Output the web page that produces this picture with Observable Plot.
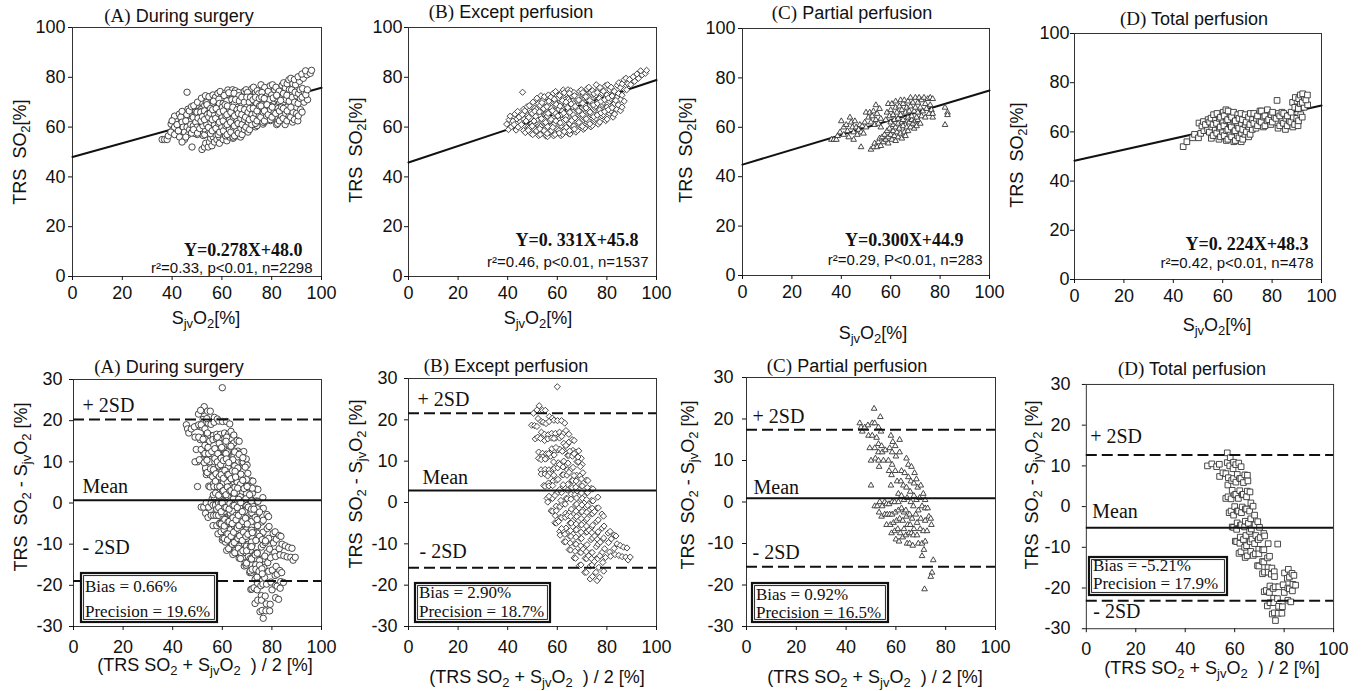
<!DOCTYPE html>
<html><head><meta charset="utf-8">
<script src="https://cdn.jsdelivr.net/npm/d3@7"></script>
<script src="https://cdn.jsdelivr.net/npm/@observablehq/plot@0.6"></script>
<style>
body{margin:0;background:#fff;}
#page{position:relative;width:1363px;height:691px;overflow:hidden;background:#fff;}
.panel{position:absolute;}
#overlay{position:absolute;left:0;top:0;pointer-events:none;}
#overlay text{white-space:pre;}
</style></head><body><div id="page"></div>
<script>
// ---------- DATA ----------
const panelLetters = ["(A)", "(B)", "(C)", "(D)"];
const panelNames = ["During surgery", "Except perfusion", "Partial perfusion", "Total perfusion"];
const slopes = [0.278, 0.331, 0.300, 0.224];
const intercepts = [48.0, 45.8, 44.9, 48.3];
const eqLabels = ["Y=0.278X+48.0", "Y=0. 331X+45.8", "Y=0.300X+44.9", "Y=0. 224X+48.3"];
const statLabels = ["r\u00B2=0.33, p<0.01, n=2298", "r\u00B2=0.46, p<0.01, n=1537", "r\u00B2=0.29, P<0.01, n=283", "r\u00B2=0.42, p<0.01, n=478"];
const bias = [0.66, 2.90, 0.92, -5.21];
const precision = [19.6, 18.7, 16.5, 17.9];
const biasLabels = ["Bias = 0.66%", "Bias = 2.90%", "Bias = 0.92%", "Bias = -5.21%"];
const precisionLabels = ["Precision = 19.6%", "Precision = 18.7%", "Precision = 16.5%", "Precision = 17.9%"];
const xTicks = [0, 20, 40, 60, 80, 100];
const yTicksTop = [0, 20, 40, 60, 80, 100];
const yTicksBottom = [-30, -20, -10, 0, 10, 20, 30];

// [SjvO2, TRS SO2] pairs
const exceptPerfusion = [
[40.3,59],[39.6,61.2],[40.6,63],[41.5,60.1],[42.1,62.4],[41,64.4],[43.4,58.8],[42.6,61],[43.7,63.3],[42.9,65.2],
[44.2,60],[45.1,62.1],[44.6,64],[44,66.3],[46.4,58.6],[45.5,61],[46.6,63.1],[45.9,65],[46.4,67.2],[46,74],
[47.1,57.8],[48.1,60],[47.4,62.4],[48.2,64.6],[46.9,66.5],[47.8,68.2],[49.5,57.4],[48.6,59.6],[49.7,61.5],[48.5,63.9],[49.4,66.1],[48.7,68.6],
[50.1,57],[51.1,59.1],[50.3,61],[51.2,63.2],[49.9,65.5],[50.9,67.6],[50.2,70],
[52.5,56.6],[51.6,58.5],[52.7,60.6],[51.7,62.9],[52.6,65],[51.5,67.1],[52.4,69.4],[51.8,71.6],
[53.1,57],[54.1,58.8],[53.2,60.2],[54.2,62.3],[53,64.5],[53.9,66.6],[53.1,68.7],[54.1,70.8],[53.4,72.6],
[55.4,56.4],[54.6,58.6],[55.7,60.9],[54.7,63],[55.6,65.2],[54.5,67.4],[55.5,69.8],[54.8,72.2],
[56.1,56.2],[57,58.1],[56.1,60.2],[57.1,62.5],[56,64.4],[57.2,66.6],[56.2,68.8],[57,71],[56.4,72.9],
[58.5,56.5],[57.6,58.6],[58.6,61],[57.5,63.1],[58.7,65.4],[57.6,67.6],[58.5,69.9],[57.4,72],[58.4,73.6],
[59.1,57],[60,59.1],[59,61.4],[60.2,63.6],[59.1,65.8],[60.1,68],[59,70.4],[60,72.6],[59.3,74.3],
[61.5,56.6],[60.6,58.6],[61.6,60.6],[60.5,62.9],[61.7,65.1],[60.6,67.2],[61.5,69.5],[60.5,71.7],[61.4,73.6],
[62.1,57.1],[63,59.4],[62.1,61.8],[63.1,64.1],[62,66.4],[63.2,68.5],[62.1,70.6],[63,72.9],[62.4,74.9],
[64.5,57.5],[63.6,59.9],[64.7,62.1],[63.5,64.4],[64.6,66.6],[63.6,68.9],[64.5,71.1],[63.5,73.4],[64.3,75],
[65.1,57.2],[66,59.1],[65,61.4],[66.1,63.6],[65.1,65.9],[66.2,68.1],[65,70.2],[66,72.5],[65.4,74.6],
[67.5,58],[66.6,60.4],[67.6,62.6],[66.5,64.9],[67.7,67.1],[66.6,69.4],[67.5,71.6],[66.7,73.9],
[68.1,58.6],[69,60.9],[68.1,63.1],[69.1,65.4],[68,67.6],[69.2,69.9],[68.1,72.1],[69,74.4],
[70.5,59.1],[69.6,61.4],[70.6,63.9],[69.5,66.1],[70.7,68.4],[69.6,70.6],[70.5,72.9],[69.7,75],
[71.1,59.6],[72,62],[71,64.4],[72.1,66.6],[71.1,68.9],[72.2,71.1],[71,73.4],[72,75.4],
[73.5,60.1],[72.6,62.5],[73.6,64.9],[72.5,67.1],[73.7,69.5],[72.6,71.9],[73.5,74],[72.7,76],
[74.1,60.6],[75,63],[74.1,65.4],[75.1,67.9],[74,70.1],[75.2,72.4],[74.2,74.6],
[76.5,61.2],[75.6,63.5],[76.6,66],[75.5,68.4],[76.7,70.6],[75.6,72.9],[76.5,75.1],[75.7,77],
[77.1,62],[78,64.5],[77.1,66.9],[78.1,69.1],[77,71.5],[78.2,73.6],[77.2,75.9],
[79.5,62.6],[78.6,65],[79.6,67.4],[78.5,69.9],[79.7,72.1],[78.6,74.4],[79.4,76.6],
[80.1,63.2],[81,65.6],[80.1,68],[81.1,70.4],[80,72.9],[81.2,75],[80.3,77],
[82.5,64],[81.6,66.5],[82.6,69],[81.5,71.4],[82.7,73.6],[81.7,76],
[83.1,65.2],[84,67.1],[83.1,69.5],[84.1,72],[83,74.4],[84.2,76.8],
[85.5,66.6],[84.6,68.9],[85.6,71.1],[84.7,73.5],[85.5,75.8],[84.8,77.8],
[86.1,68],[87,70.4],[86.1,72.8],[87.1,75.1],[86.2,77.4],[86.9,79],
[88,75],[88.5,77.4],[87.7,79.6],[89.6,77],[89.1,79.1],[91.2,78.4],[90.6,80.2],[92.7,79.6],[92.1,81.3],[94.2,81],[93.6,82.6],[95.5,81.6],[96,82.8],
[48.3,58.7],[49.9,60.4],[50.6,62.4],[51.3,64.3],[50.9,66.4],[52.9,59.3],[53.6,63.4],[52.8,66.1],[53.8,69.8],[55.9,57.4],
[55.3,61.9],[56.3,65.5],[55.8,68.2],[56.6,70.4],[58.2,59.9],[59.4,62.5],[58,66.6],[59.6,69.1],[58.8,71.2],[60.8,57.6],
[61.2,61.7],[60.2,64.5],[61.1,68.4],[60.9,72.7],[62.8,58.2],[63.4,63],[62.6,65.6],[63.5,70],[62.8,73.8],[64.9,58.6],
[65.8,62.6],[64.2,67.8],[65.6,69.3],[64.9,73.6],[66.9,59.2],[67.1,63.7],[67.2,68.3],[66.9,72.6],[68.7,61.9],[68.6,66.5],
[68.6,70.9],[70.1,60.3],[70.2,65],[70.2,69.6],[70.3,73.9],[71.7,63.3],[71.6,67.7],[71.5,72.2],[73.1,61.3],[73.2,66],
[73.1,70.7],[74.7,64.2],[74.6,68.9],[74.8,73.4],[76.1,64.8],[76.2,69.5],[76.1,73.9],[77.6,65.7],[77.6,70.3],[79.1,66.2],
[79.1,71],[80.6,67],[80.6,71.7],[82.1,67.8],[82.1,72.5],[83.6,70.7]
];
const partialPerfusion = [
[36,55],[37,55],[38,55],[38.5,56.5],[39.5,58],[40,62.5],[41,60],[41,57],[42,61],[42.5,58.5],[43,56],[43.5,64],
[44,62],[44.5,60],[45,58],[45,55],[45.5,62.5],[46,60],[46.5,57],[47,59],[47.5,61],[48,52],[48,58],[48.5,60.5],
[49,57.5],[49.5,62],[50,60],[50,66],
[51,64],[51.5,66],[52,62],[52.5,64.5],[53,66.5],[53.5,61],[54,69],[54,63],[54.5,65.5],[55,61.5],[55.5,67.5],[56,63.5],[56,60],
[52,51],[53,52],[53.5,53.5],[54.5,52],[55,54],[55.5,55.5],[56,52.5],[56.5,56],[57,54],[57.5,57],[58,55],[58.5,58.5],
[59,56],[59,53.5],[59.5,59.5],[60,57],[60.5,55],[61,58.5],[61,61],[61.5,56.5],[62,60],[62,54.5],[62.5,58],[63,61.5],
[63,56],[63.5,59.5],[64,57.5],[64.5,62],[64.5,55.5],[65,60.5],[65.5,58],[66,62.5],[66,56.5],[66.5,60],[67,58.5],
[67.5,62],[68,60],[68.5,63],[69,61.5],[69.5,59.5],[70,62.5],[70.5,60.5],[71,63],[72,61.5],
[58,63],[58.5,66],[59,69.5],[59.5,64.5],[60,62],[60,67],[60.5,69.5],[61,65],[61.5,63],[62,68],[62,70.5],[62.5,66],
[63,63.5],[63.5,68.5],[64,71],[64,65],[64.5,67],[65,69.5],[65,63],[65.5,71],[66,66],[66.5,68],[67,64],[67,70.5],
[67.5,66.5],[68,72],[68,68.5],[68.5,64.5],[69,70],[69.5,66.5],[70,72],[70,68],[70.5,64],[71,70],[71,66],[71.5,72],
[72,68],[72.5,64.5],[72.5,71],[73,66.5],[73.5,72],[74,69.5],[74,64],[74.5,67.5],[75,71.5],[75.5,65.5],[76,72],
[76,69],[76.5,67],[77,71.5],[77,64],[77,65.5],
[82,61],[82,68],[83,66],[83,65]
];
const totalPerfusion = [
[44,54],[45.5,56],[47.8,57.6],[48.6,59],[50.2,57.6],[51.1,59.4],[50.4,63.6],[52.4,60.5],[51.6,62.4],[52.2,64.2],
[53.9,61],[53,63],[54.1,65],[55.4,57.4],[54.6,59.9],[55.6,62],[54.7,64],[55.3,65.6],
[56.1,58.5],[57,61],[56.1,63],[57.1,65],[56.3,67],[58.5,57],[57.6,59.5],[58.6,61.5],[57.5,63.5],[58.6,65.5],[57.7,67.5],
[59.1,58],[60,60],[59,62],[60.1,64],[59.1,66],[60.2,68],[61.5,56.5],[60.6,58.5],[61.6,60.5],[60.5,62.5],[61.6,64.5],[60.6,66.5],[61.3,69],
[62.1,57],[63,59],[62.1,61],[63.1,63],[62,65],[63.2,67],[62.2,68.5],[64.5,56],[63.6,58],[64.6,60],[63.5,62],[64.6,64],[63.6,66],[64.4,68],
[65.1,56.5],[66,58.5],[65,60.5],[66.1,62.5],[65.1,64.5],[66.1,67],[67.5,56],[66.6,57.6],[67.6,59.5],[66.5,61.5],[67.6,63.5],[66.6,65.5],[67.4,67.5],
[68.1,57],[69,59],[68.1,61],[69.1,63],[68,65],[69.1,67],[70.5,58],[69.6,60],[70.6,62],[69.5,64],[70.5,66],
[71.1,59],[72,61],[71,63],[72.1,65],[71.2,67.5],[73.5,61.5],[72.6,63.5],[73.6,65.5],[72.6,67.5],
[74.1,62.5],[75,64.5],[74.1,66.5],[75.1,68.5],[76.5,62],[75.6,64],[76.6,66],[75.7,68.5],
[77.1,62.5],[78,64.5],[77.1,66.5],[78.1,69],[79.5,63],[78.6,65],[79.6,67],[80.1,64],[81,66],[80.2,68],
[82.4,61.5],[81.6,65.5],[82.6,67.5],[82,72.8],[83.1,62.5],[84,64.5],[83.1,66.5],[84,68],
[85.4,61],[84.6,63.5],[85.6,65.5],[84.7,67.5],[86.1,62.5],[87,64.5],[86.2,66.5],
[88.4,62],[87.6,64],[88.6,66],[87.7,68],[88.3,72],[89.1,63],[90,65.5],[89.2,70],[90.1,72.5],[89.4,74],
[90.5,62.5],[90.7,64.5],[91.6,67],[90.6,69.5],[91.5,71.5],[90.8,73.5],[91.4,75],
[92.2,66],[93,70],[92.2,72],[93.1,74],[92.4,75.5],[94.4,71],[93.7,73],[94.3,75]
];
// "During surgery" is the union of the three phases (n = 1537 + 283 + 478 = 2298)
const duringSurgery = [...exceptPerfusion, ...partialPerfusion, ...totalPerfusion];
const series = [duringSurgery, exceptPerfusion, partialPerfusion, totalPerfusion];

// ---------- LAYOUT / STYLE ----------
const symbols = ["circle", "diamond2", "triangle", "square2"];
const symbolR = [3.2, 2.8, 2.1, 3.6];
const framesTop = [[72,27,249,249],[408,27,248,249],[742,28,247,247],[1074,33,247,246]];
const framesBottom = [[73,379,248,247],[408,378,248,248],[746,377,249,249],[1086,384,248,245]];
const yPadTop = [3,2,3,1];
const yPadBottom = [7,7,9,12];
const eqOffset = [[-19,-25.8],[-18,-35.8],[-26,-34.8],[-13,-34.8]];
const statOffset = [[-9,-8.8],[-8,-14.8],[-7,-15.8],[-8,-16.8]];
const annDx = [[9,9,9],[9,14,11],[6,7,6],[4,6,7]];
const annDy = [[-14.4,-13.4,-33.4],[-13.4,-13.4,-16.4],[-13.4,-10.4,-14.4],[-18.4,-16.4,10.6]];

const SANS = "'Liberation Sans', Arial, Helvetica, sans-serif";
const SERIF = "'Liberation Serif', 'Times New Roman', Times, serif";
const page = document.getElementById("page");
const M = {left: 60, right: 30, top: 14, bottom: 44};

function place(frame, marks, ydomain, yticks, ypad, xpad) {
  const [L, T, W, H] = frame;
  const chart = Plot.plot({
    width: W + M.left + M.right, height: H + M.top + M.bottom,
    marginLeft: M.left, marginRight: M.right, marginTop: M.top, marginBottom: M.bottom,
    style: {fontFamily: SANS, fontSize: "18px", color: "#111", background: "transparent", overflow: "visible"},
    x: {domain: [0, 100], label: null},
    y: {domain: ydomain, label: null},
    marks: [
      Plot.frame({stroke: "#333", strokeWidth: 1}),
      Plot.axisX({ticks: xTicks, tickSize: 4, tickPadding: xpad, label: null, tickFormat: d => d, fontSize: 18}),
      Plot.axisY({ticks: yticks, tickSize: 4, tickPadding: ypad, label: null, tickFormat: d => d, fontSize: 18}),
      ...marks
    ]
  });
  const d = document.createElement("div");
  d.className = "panel";
  d.style.left = (L - M.left) + "px";
  d.style.top = (T - M.top) + "px";
  d.appendChild(chart);
  page.appendChild(d);
}

for (let i = 0; i < 4; i++) {
  const pts = series[i];
  const reg = [0, 100].map(x => ({x, y: intercepts[i] + slopes[i] * x}));
  place(framesTop[i], [
    Plot.line(reg, {x: "x", y: "y", stroke: "#111", strokeWidth: 2}),
    Plot.dot(pts, {x: d => d[0], y: d => d[1], symbol: symbols[i], r: symbolR[i], stroke: "#333", strokeWidth: 0.9, fill: "white"}),
    Plot.text([eqLabels[i]], {frameAnchor: "bottom-right", text: d => d, dx: eqOffset[i][0], dy: eqOffset[i][1], textAnchor: "end", lineAnchor: "middle", fontFamily: SERIF, fontSize: 18, fontWeight: "bold", fill: "#111"}),
    Plot.text([statLabels[i]], {frameAnchor: "bottom-right", text: d => d, dx: statOffset[i][0], dy: statOffset[i][1], textAnchor: "end", lineAnchor: "middle", fontFamily: SANS, fontSize: 15, fill: "#111"})
  ], [0, 100], yTicksTop, yPadTop[i], 6);

  const ba = pts.map(([s, t]) => ({mean: (s + t) / 2, diff: t - s}));
  const up = bias[i] + precision[i], lo = bias[i] - precision[i];
  const anns = [{y: up, t: "+ 2SD"}, {y: bias[i], t: "Mean"}, {y: lo, t: "- 2SD"}];
  place(framesBottom[i], [
    Plot.dot(ba, {x: "mean", y: "diff", symbol: symbols[i], r: symbolR[i], stroke: "#333", strokeWidth: 0.9, fill: "white"}),
    Plot.ruleY([bias[i]], {stroke: "#111", strokeWidth: 2}),
    Plot.ruleY([up, lo], {stroke: "#111", strokeWidth: 2, strokeDasharray: "11,5"}),
    ...anns.map((a, k) => Plot.text([a], {y: "y", text: "t", frameAnchor: "left", textAnchor: "start", lineAnchor: "middle", dx: annDx[i][k], dy: annDy[i][k], fontFamily: SERIF, fontSize: 20, fill: "#111"}))
  ], [-30, 30], yTicksBottom, yPadBottom[i], 10);
}

// ---------- OVERLAY TEXT (titles, axis titles with subscripts, bias boxes) ----------
const titleTop = [[179,22],[511,18],[852,19],[1194,25]];
const titleBottom = [[169,373],[506,372],[847,372],[1192,375]];
const xTitleTop = [[206,324],[538,324],[873,339],[1217,331]];
const xTitleBottom = [[205,671],[537,683],[875,683],[1212,674]];
const yTitleTop = [[26,152],[362,150],[692,150],[1023,155]];
const yTitleBottom = [[27,487],[362,484],[694,485],[1038,485]];
const boxes = [[81,573,136,49,592,617],[415,583,135,39,598,617],[752,583,136,39,600,618],[1089,557,138,38,571,589]];

function rich(segs) {
  let out = "", shifted = false;
  for (const [t, isSub] of segs) {
    const dy = isSub && !shifted ? 4 : (!isSub && shifted ? -4 : 0);
    shifted = !!isSub;
    out += `<tspan dy="${dy}"${isSub ? ' font-size="13"' : ""}>${t}</tspan>`;
  }
  return out;
}
const sjvo2 = rich([["S"],["jv",1],["O"],["2",1],["[%]"]]);
const meanTitle = rich([["(TRS SO"],["2",1],[" + S"],["jv",1],["O"],["2",1],["  ) / 2 [%]"]]);
const trsTitle = rich([["TRS  SO"],["2",1],["[%]"]]);
const diffTitle = rich([["TRS  SO"],["2",1],[" - S"],["jv",1],["O"],["2",1],[" [%]"]]);

let svg = `<svg id="overlay" width="1363" height="691" xmlns="http://www.w3.org/2000/svg" font-family="${SANS}" font-size="18" fill="#111">`;
for (let i = 0; i < 4; i++) {
  for (const [cx, by] of [titleTop[i], titleBottom[i]]) {
    svg += `<text x="${cx}" y="${by}" text-anchor="middle"><tspan font-family="${SERIF}" font-size="19">${panelLetters[i]}</tspan><tspan> ${panelNames[i]}</tspan></text>`;
  }
  svg += `<text x="${xTitleTop[i][0]}" y="${xTitleTop[i][1]}" text-anchor="middle">${sjvo2}</text>`;
  svg += `<text x="${xTitleBottom[i][0]}" y="${xTitleBottom[i][1]}" text-anchor="middle">${meanTitle}</text>`;
  svg += `<text transform="translate(${yTitleTop[i][0]},${yTitleTop[i][1]}) rotate(-90)" text-anchor="middle">${trsTitle}</text>`;
  svg += `<text transform="translate(${yTitleBottom[i][0]},${yTitleBottom[i][1]}) rotate(-90)" text-anchor="middle">${diffTitle}</text>`;
  const [bx, by, bw, bh, b1, b2] = boxes[i];
  svg += `<rect x="${bx}" y="${by}" width="${bw}" height="${bh}" fill="white" stroke="#111" stroke-width="2.2"/>`;
  svg += `<rect x="${bx+2.6}" y="${by+2.6}" width="${bw-5.2}" height="${bh-5.2}" fill="none" stroke="#111" stroke-width="0.9"/>`;
  svg += `<text x="${bx+4}" y="${b1}" font-family="${SERIF}" font-size="17">${biasLabels[i]}</text>`;
  svg += `<text x="${bx+4}" y="${b2}" font-family="${SERIF}" font-size="17">${precisionLabels[i]}</text>`;
}
svg += `</svg>`;
page.insertAdjacentHTML("beforeend", svg);
</script>
</body></html>
